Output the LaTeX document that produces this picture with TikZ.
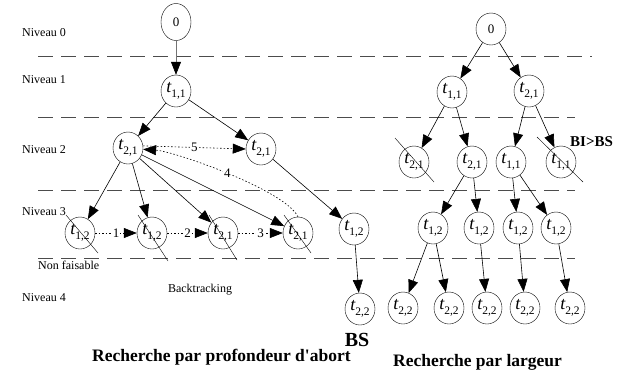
\documentclass[tikz,border=0pt]{standalone}
\usepackage{fontspec}
\setmainfont{Liberation Serif}
\usetikzlibrary{shapes.geometric,arrows.meta}

% node label t_{i,j}
\newcommand\tlab[1]{\fontsize{18}{18}\selectfont\textit{t}\kern-0.3pt\raisebox{-4.5pt}{\fontsize{11.5}{11.5}\selectfont #1}}
% diagonal stroke through a rejected node
\newcommand\strikeout[3]{\draw ([shift={(-14,-18)}]#1.center) -- ([shift={(#2,#3)}]#1.center);}

\begin{document}
\begin{tikzpicture}[x=1pt,y=-1pt,
  tnode/.style={ellipse, draw, minimum width=30pt, minimum height=32pt, inner sep=0pt, fill=white},
  tip/.style={-{Triangle[length=13pt,width=10pt]}},
  edge/.style={tip, line width=0.6pt},
  dotarrow/.style={tip, line width=0.6pt, dash pattern=on 1.5pt off 2pt},
  numlab/.style={fill=white, inner sep=1pt, font=\fontsize{13}{13}\selectfont},
  level/.style={draw=black!70, line width=0.8pt, dash pattern=on 15pt off 8pt},
  lvltext/.style={anchor=west, inner sep=0pt, font=\fontsize{12}{12}\selectfont},
  title/.style={anchor=west, inner sep=0pt, font=\fontsize{17.5}{17.5}\selectfont\bfseries}
]
\useasboundingbox (0,0) rectangle (631,376);

% level separators
\draw[level] (38,56) -- (592,56);
\draw[level] (38,117) -- (575,117);
\draw[level] (38,190) -- (575,190);
\draw[level] (38,258) -- (575,258);

% level captions
\node[lvltext] at (22,33) {Niveau 0};
\node[lvltext] at (22,80) {Niveau 1};
\node[lvltext] at (22,150) {Niveau 2};
\node[lvltext] at (22,212) {Niveau 3};
\node[lvltext] at (22,298) {Niveau 4};
\node[lvltext] at (38,265) {Non faisable};
\node[lvltext, anchor=center] at (200,290) {Backtracking};

% ---------- depth-first tree ----------
\node[tnode, minimum height=37pt] (L0) at (176,22) {\fontsize{13}{13}\selectfont 0};
\node[tnode] (L11) at (176,91) {\tlab{1,1}};
\node[tnode] (L21a) at (128,148) {\tlab{2,1}};
\node[tnode] (L21b) at (261,149) {\tlab{2,1}};
\node[tnode] (n1) at (80,233) {\tlab{1,2}};
\node[tnode] (n2) at (152,233) {\tlab{1,2}};
\node[tnode] (n3) at (223,233) {\tlab{2,1}};
\node[tnode] (n4) at (298,233) {\tlab{2,1}};
\node[tnode] (L12) at (354,229) {\tlab{1,2}};
\node[tnode] (L22) at (360,309) {\tlab{2,2}};

\draw[edge, draw=black!55, -{Triangle[length=13pt,width=10pt,black]}] (L0) -- (L11);
\draw[edge] (L11) -- (L21a);
\draw[edge] (L11) -- (L21b);
\draw[edge] (L21a) -- (n1);
\draw[edge] (L21a) -- (n2);
\draw[edge] (L21a) -- (n3);
\draw[edge] (L21a) -- (n4);
\draw[edge] (L21b) -- (L12);
\draw[edge] (L12) -- (L22);

% backtracking moves
\draw[dotarrow] (n1) -- node[numlab] {1} (n2);
\draw[dotarrow] (n2) -- node[numlab] {2} (n3);
\draw[dotarrow] (n3) -- node[numlab] {3} (n4);
\draw[dotarrow] (n4.north) .. controls +(-13,-27) and +(31,2) .. node[numlab, pos=0.5] {4} (L21a.-5);
\draw[dotarrow] (L21a.8) -- node[numlab] {5} (L21b.west);

\strikeout{n1}{18}{20}
\strikeout{n2}{16}{28}
\strikeout{n3}{14}{27}
\strikeout{n4}{13}{20}

\node[inner sep=0pt, font=\fontsize{20}{20}\selectfont\bfseries] (bs) at (357,340) {BS};
\node[title] at (92,357) {Recherche par profondeur d\textquotesingle abort};

% ---------- breadth-first tree ----------
\node[tnode] (R0) at (491,29) {\fontsize{13}{13}\selectfont 0};
\node[tnode] (R11) at (452,92) {\tlab{1,1}};
\node[tnode] (R21) at (529,91) {\tlab{2,1}};
\node[tnode] (R2a) at (414,162) {\tlab{2,1}};
\node[tnode] (R2b) at (472,162) {\tlab{2,1}};
\node[tnode] (R2c) at (511,162) {\tlab{1,1}};
\node[tnode] (R2d) at (561,162) {\tlab{1,1}};
\node[tnode] (R3a) at (433,228) {\tlab{1,2}};
\node[tnode] (R3b) at (479,228) {\tlab{1,2}};
\node[tnode] (R3c) at (518,228) {\tlab{1,2}};
\node[tnode] (R3d) at (556,228) {\tlab{1,2}};
\node[tnode] (R4a) at (403,308) {\tlab{2,2}};
\node[tnode] (R4b) at (449,308) {\tlab{2,2}};
\node[tnode] (R4c) at (487,308) {\tlab{2,2}};
\node[tnode] (R4d) at (525,308) {\tlab{2,2}};
\node[tnode] (R4e) at (570,308) {\tlab{2,2}};

\draw[edge] (R0) -- (R11);
\draw[edge] (R0) -- (R21);
\draw[edge] (R11) -- (R2a);
\draw[edge] (R11) -- (R2b);
\draw[edge] (R21) -- (R2c);
\draw[edge] (R21) -- (R2d);
\draw[edge] (R2b) -- (R3a);
\draw[edge] (R2b) -- (R3b);
\draw[edge] (R2c) -- (R3c);
\draw[edge] (R2c) -- (R3d);
\draw[edge] (R3a) -- (R4a);
\draw[edge] (R3a) -- (R4b);
\draw[edge] (R3b) -- (R4c);
\draw[edge] (R3c) -- (R4d);
\draw[edge] (R3d) -- (R4e);

\draw ([shift={(-19,-24)}]R2a.center) -- ([shift={(20,20)}]R2a.center);
\draw ([shift={(-24,-25)}]R2d.center) -- ([shift={(22,20)}]R2d.center);

\node[anchor=west, inner sep=0pt, font=\fontsize{15}{15}\selectfont\bfseries] (bi) at (570,142) {BI>BS};
\node[title] at (393,362) {Recherche par largeur};
\end{tikzpicture}
\end{document}
